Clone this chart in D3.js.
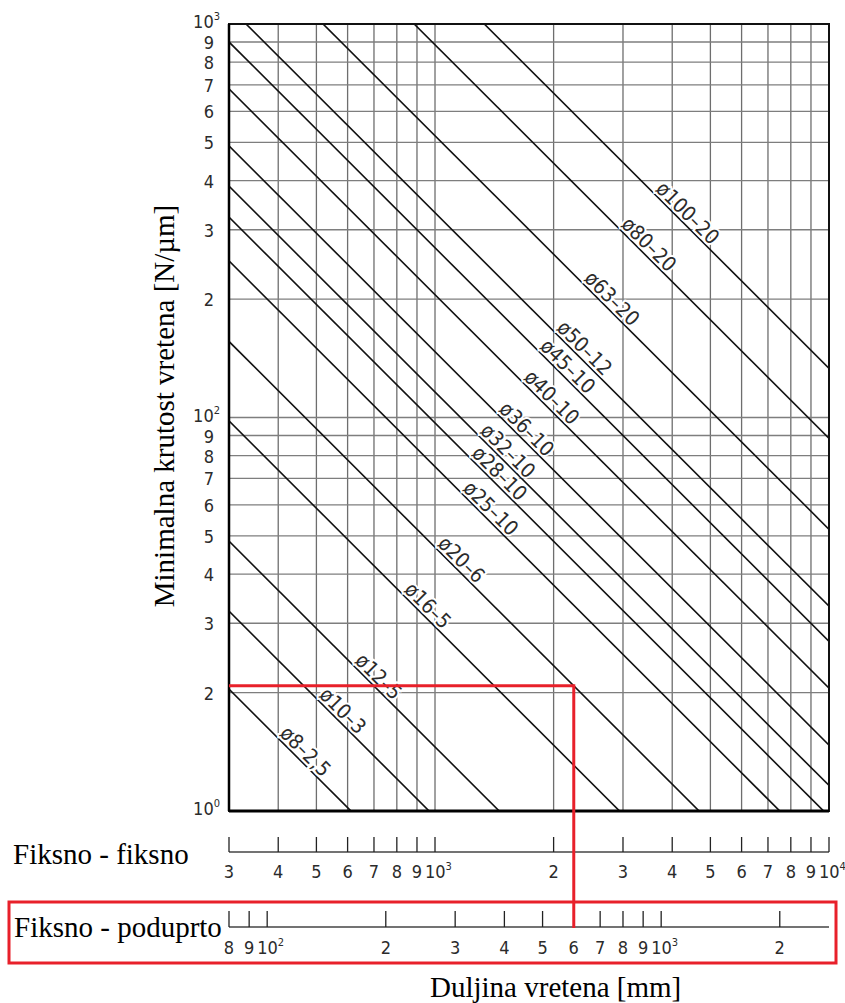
<!DOCTYPE html>
<meta charset="utf-8">
<head>
    <script type="text/javascript" src="https://cdn.jsdelivr.net/npm/d3@7"></script>
    <style>
        body { margin: 0; background: #fff; }
        .num { font-family: "DejaVu Sans Condensed", "Liberation Sans Narrow", "DejaVu Sans", sans-serif; font-stretch: condensed; fill: #2b2b2b; }
        .serif { font-family: "Liberation Serif", "Times New Roman", serif; fill: #000; }
    </style>
</head>
<body>
<div id="chart"></div>
<script>
    // page size
    var w = 845;
    var h = 1003;

    // spindle sizes (diameter - lead) and stiffness read at L = 300 mm (fixed - fixed)
    var sizes = ["ø8–2,5", "ø10–3", "ø12–5", "ø16–5", "ø20–6", "ø25–10", "ø28–10", "ø32–10",
        "ø36–10", "ø40–10", "ø45–10", "ø50–12", "ø63–20", "ø80–20", "ø100–20"];
    var stiffAt300 = [20.4, 32.2, 48.5, 98, 156, 250, 323, 387, 490, 684, 900, 1105, 1733, 2951, 4446];
    // length (fixed - fixed) where each label sits on its line
    var labelAt = [450, 560, 690, 920, 1120, 1330, 1400, 1470, 1640, 1900, 2085, 2300, 2700, 3350, 4200];

    // axis ticks
    var yTicks = [1000, 900, 800, 700, 600, 500, 400, 300, 200, 100, 90, 80, 70, 60, 50, 40, 30, 20, 10];
    var yLabels = [["10", "3"], "9", "8", "7", "6", "5", "4", "3", "2", ["10", "2"], "9", "8", "7", "6", "5", "4", "3", "2", ["10", "0"]];
    var ffTicks = [300, 400, 500, 600, 700, 800, 900, 1000, 2000, 3000, 4000, 5000, 6000, 7000, 8000, 9000, 10000];
    var ffLabels = ["3", "4", "5", "6", "7", "8", "9", ["10", "3"], "2", "3", "4", "5", "6", "7", "8", "9", ["10", "4"]];
    var fsTicks = [80, 90, 100, 200, 300, 400, 500, 600, 700, 800, 900, 1000, 2000];
    var fsLabels = ["8", "9", ["10", "2"], "2", "3", "4", "5", "6", "7", "8", "9", ["10", "3"], "2"];

    // marked example: stiffness and fixed - supported length
    var markK = 20.8;
    var markL = 600;
    var ratio = 3.75; // fixed-fixed length / fixed-supported length

    var svg = d3.select("#chart").append("svg")
        .attr("width", w).attr("height", h)
        .style("background", "#fff");

    var pLeft = 229, pRight = 829, pTop = 24, pBottom = 811;
    var x = d3.scaleLog().domain([300, 10000]).range([pLeft, pRight]);
    var xs = d3.scaleLog().domain([300 / ratio, 10000 / ratio]).range([pLeft, pRight]);
    var y = d3.scaleLog().domain([10, 1000]).range([pBottom, pTop]);

    svg.append("clipPath").attr("id", "clip")
        .append("rect").attr("x", pLeft).attr("y", pTop).attr("width", pRight - pLeft).attr("height", pBottom - pTop);

    // grid
    svg.append("g").selectAll("line").data(ffTicks.slice(1, -1)).enter().append("line")
        .attr("x1", d => x(d)).attr("x2", d => x(d))
        .attr("y1", pTop).attr("y2", pBottom)
        .attr("stroke", "#6e6e6e").attr("stroke-width", 1.3);
    svg.append("g").selectAll("line").data(yTicks.slice(1, -1)).enter().append("line")
        .attr("y1", d => y(d)).attr("y2", d => y(d))
        .attr("x1", pLeft).attr("x2", pRight)
        .attr("stroke", "#7e7e7e").attr("stroke-width", 1.3);

    // stiffness lines, K = k300 * 300 / L
    var lines = sizes.map((s, i) => ({ name: s, k: stiffAt300[i], at: labelAt[i] }));
    var kOf = (d, L) => d.k * 300 / L;
    svg.append("g").attr("clip-path", "url(#clip)")
        .selectAll("line").data(lines).enter().append("line")
        .attr("x1", x(100)).attr("y1", d => y(kOf(d, 100)))
        .attr("x2", x(30000)).attr("y2", d => y(kOf(d, 30000)))
        .attr("stroke", "#111").attr("stroke-width", 1.6);

    // line labels
    var ang = Math.atan2(y(1) - y(10), x(1000) - x(100)) * 180 / Math.PI;
    svg.append("g").selectAll("text").data(lines).enter().append("text")
        .attr("class", "num")
        .attr("transform", d => "translate(" + x(d.at) + "," + y(kOf(d, d.at)) + ") rotate(" + ang + ")")
        .attr("y", -3)
        .attr("text-anchor", "middle")
        .style("font-size", "20.5px")
        .style("paint-order", "stroke")
        .attr("stroke", "#fff").attr("stroke-width", 4)
        .text(d => d.name);

    // frame
    svg.append("rect").attr("x", pLeft).attr("y", pTop).attr("width", pRight - pLeft).attr("height", pBottom - pTop)
        .attr("fill", "none").attr("stroke", "#111").attr("stroke-width", 2);
    svg.append("line").attr("x1", pLeft).attr("x2", pRight).attr("y1", pBottom).attr("y2", pBottom)
        .attr("stroke", "#000").attr("stroke-width", 3);
    svg.append("line").attr("x1", pLeft).attr("x2", pLeft).attr("y1", pTop).attr("y2", pBottom)
        .attr("stroke", "#000").attr("stroke-width", 2.5);

    // helper for "10^n" style labels
    function label(sel, lab) {
        if (Array.isArray(lab)) {
            sel.text(lab[0]);
            sel.append("tspan").attr("dy", -8).style("font-size", "11px").text(lab[1]);
        } else {
            sel.text(lab);
        }
    }

    // y ticks
    yTicks.forEach((t, i) => {
        var lab = yLabels[i];
        var tx = svg.append("text").attr("class", "num")
            .attr("x", Array.isArray(lab) ? 220 : 214)
            .attr("y", y(t) + (Array.isArray(lab) ? 4 : 7))
            .attr("text-anchor", "end")
            .style("font-size", "18px");
        label(tx, lab);
    });

    // bottom scale helper
    function scaleRow(sc, ticks, labels, base, tickLen, labY) {
        var g = svg.append("g");
        g.append("line").attr("x1", pLeft).attr("x2", pRight).attr("y1", base).attr("y2", base)
            .attr("stroke", "#444").attr("stroke-width", 1.5);
        g.selectAll("line.t").data(ticks).enter().append("line").attr("class", "t")
            .attr("x1", d => sc(d)).attr("x2", d => sc(d))
            .attr("y1", base - tickLen).attr("y2", base)
            .attr("stroke", "#222").attr("stroke-width", 1.3);
        ticks.forEach((t, i) => {
            var lab = labels[i];
            var tx = g.append("text").attr("class", "num")
                .attr("x", Array.isArray(lab) ? sc(t) - 10 : sc(t))
                .attr("y", labY)
                .attr("text-anchor", Array.isArray(lab) ? "start" : "middle")
                .style("font-size", "18px");
            label(tx, lab);
        });
    }
    scaleRow(x, ffTicks, ffLabels, 852, 15, 878);
    scaleRow(xs, fsTicks, fsLabels, 927, 16, 954);

    // axis titles
    svg.append("text").attr("class", "serif")
        .attr("transform", "translate(174,406) rotate(-90)")
        .attr("text-anchor", "middle")
        .style("font-size", "29px")
        .text("Minimalna krutost vretena [N/µm]");
    svg.append("text").attr("class", "serif")
        .attr("x", 13).attr("y", 864)
        .style("font-size", "29px")
        .text("Fiksno - fiksno");
    svg.append("text").attr("class", "serif")
        .attr("x", 14).attr("y", 937)
        .style("font-size", "29px")
        .text("Fiksno - poduprto");
    svg.append("text").attr("class", "serif")
        .attr("x", 430).attr("y", 997)
        .style("font-size", "29px")
        .text("Duljina vretena [mm]");

    // red example and box
    var red = "#e8202a";
    svg.append("rect").attr("x", 9).attr("y", 902).attr("width", 827).attr("height", 61)
        .attr("fill", "none").attr("stroke", red).attr("stroke-width", 3);
    svg.append("line").attr("x1", pLeft).attr("x2", xs(markL) + 1.5)
        .attr("y1", y(markK)).attr("y2", y(markK))
        .attr("stroke", red).attr("stroke-width", 3);
    svg.append("line").attr("x1", xs(markL)).attr("x2", xs(markL))
        .attr("y1", y(markK)).attr("y2", 928)
        .attr("stroke", red).attr("stroke-width", 3);
</script>
</body>
